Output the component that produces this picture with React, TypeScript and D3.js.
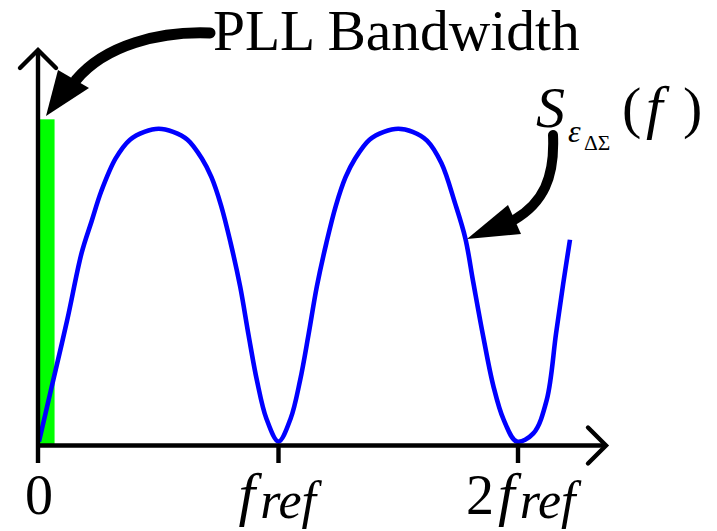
import React from "react";
import * as d3 from "d3";

// Noise-shaped spectrum S(f), frequency in units of f_ref, level normalised to the peak
const freq = [
  0, 0.053, 0.118, 0.178, 0.22, 0.26, 0.32, 0.38, 0.44, 0.5,
  0.56, 0.62, 0.68, 0.72, 0.76, 0.8, 0.84, 0.875, 0.91, 0.95, 1.0,
  1.05, 1.09, 1.125, 1.16, 1.2, 1.24, 1.28, 1.32, 1.38, 1.44, 1.5,
  1.56, 1.62, 1.68, 1.737, 1.78, 1.813, 1.855, 1.897, 1.94, 1.995,
  2.064, 2.12, 2.159, 2.189, 2.217,
];
const psd = [
  0, 0.175, 0.389, 0.603, 0.705, 0.8, 0.905, 0.965, 0.99, 1.0,
  0.99, 0.965, 0.905, 0.845, 0.755, 0.635, 0.495, 0.34, 0.195, 0.072, 0,
  0.072, 0.195, 0.34, 0.495, 0.635, 0.755, 0.845, 0.905, 0.965, 0.99, 1.0,
  0.99, 0.962, 0.89, 0.762, 0.65, 0.51, 0.335, 0.178, 0.07, 0,
  0.026, 0.133, 0.346, 0.506, 0.645,
];

// Loop bandwidth of the PLL (shaded band near DC)
const pllBandwidth = 0.065;
const pllBandLevel = 1.03;

// Axis ticks at multiples of f_ref
const tickValues = [0, 1, 2];
const tickCoef = ["0", "", "2"];
const tickHasRef = [false, true, true];

const W = 717;
const H = 531;

export default function App() {
  const x = d3.scaleLinear().domain([0, 1]).range([39, 278.5]);
  const y = d3.scaleLinear().domain([0, 1]).range([441.5, 128.7]);

  const pts: [number, number][] = freq.map((f, i) => [f, psd[i]]);
  const line = d3
    .line<[number, number]>()
    .x((d) => x(d[0]))
    .y((d) => y(d[1]))
    .curve(d3.curveCatmullRom.alpha(0.5));

  const axisY = 445.5;
  const axisX = 38;
  const xEnd = 606;
  const yTop = 50;
  const tickBottom = 463;
  const font = "'Liberation Serif', 'Times New Roman', serif";

  return (
    <svg
      width={W}
      height={H}
      viewBox={`0 0 ${W} ${H}`}
      style={{ position: "absolute", left: 0, top: 0, background: "#fff" }}
    >
      <rect width={W} height={H} fill="#fff" />

      {/* PLL bandwidth band */}
      <rect
        x={x(0)}
        y={y(pllBandLevel)}
        width={x(pllBandwidth) - x(0)}
        height={axisY - y(pllBandLevel)}
        fill="#00ff00"
      />

      {/* spectrum */}
      <path d={line(pts) ?? ""} fill="none" stroke="#0000ff" strokeWidth={4.6} />

      {/* axes */}
      <g stroke="#000" fill="none" strokeWidth={4.4}>
        <line x1={axisX} y1={tickBottom} x2={axisX} y2={yTop + 1} />
        <line x1={axisX - 2} y1={axisY} x2={xEnd - 1} y2={axisY} />
        <polyline
          points={`${axisX - 18},${yTop + 18} ${axisX},${yTop} ${axisX + 18},${yTop + 18}`}
          strokeLinecap="round"
        />
        <polyline
          points={`${xEnd - 18},${axisY - 18} ${xEnd},${axisY} ${xEnd - 18},${axisY + 18}`}
          strokeLinecap="round"
        />
        {tickValues
          .filter((t) => t > 0)
          .map((t) => (
            <line key={t} x1={x(t)} y1={axisY} x2={x(t)} y2={tickBottom} />
          ))}
      </g>

      {/* tick labels */}
      {tickValues.map((t, i) =>
        tickHasRef[i] ? (
          <text
            key={t}
            x={x(t) + (tickCoef[i] ? -52 : -40)}
            y={514}
            fontFamily={font}
            fontSize={56}
            fill="#000"
          >
            {tickCoef[i] && <tspan>{tickCoef[i]}</tspan>}
            <tspan fontStyle="italic" fontSize={60} dx={tickCoef[i] ? 4 : 0}>
              f
            </tspan>
            <tspan fontStyle="italic" fontSize={52} dx={5} dy={4}>
              ref
            </tspan>
          </text>
        ) : (
          <text
            key={t}
            x={x(t)}
            y={514}
            textAnchor="middle"
            fontFamily={font}
            fontSize={56}
            fill="#000"
          >
            {tickCoef[i]}
          </text>
        )
      )}

      {/* PLL Bandwidth annotation */}
      <text x={213} y={50} fontFamily={font} fontSize={57.5} fill="#000">
        PLL Bandwidth
      </text>
      <path
        d="M210,33 C160,31 105,45 76,80"
        fill="none"
        stroke="#000"
        strokeWidth={11}
        strokeLinecap="round"
      />
      <polygon points="46,116 58,70 89,88" fill="#000" />

      {/* spectrum label */}
      <g fontFamily={font} fill="#000">
        <text x={536} y={127} fontSize={58} fontStyle="italic">
          S
        </text>
        <text x={568} y={142} fontSize={32} fontStyle="italic">
          ε
        </text>
        <text x={584} y={150} fontSize={21.5}>
          ΔΣ
        </text>
        <text x={622} y={127} fontSize={58}>
          (
        </text>
        <text x={646} y={127} fontSize={60} fontStyle="italic">
          f
        </text>
        <text x={683} y={127} fontSize={58}>
          )
        </text>
      </g>
      <path
        d="M553,135 C555,178 543,203 514,220"
        fill="none"
        stroke="#000"
        strokeWidth={10}
        strokeLinecap="round"
      />
      <polygon points="467,239 508,205 521,234" fill="#000" />
    </svg>
  );
}
